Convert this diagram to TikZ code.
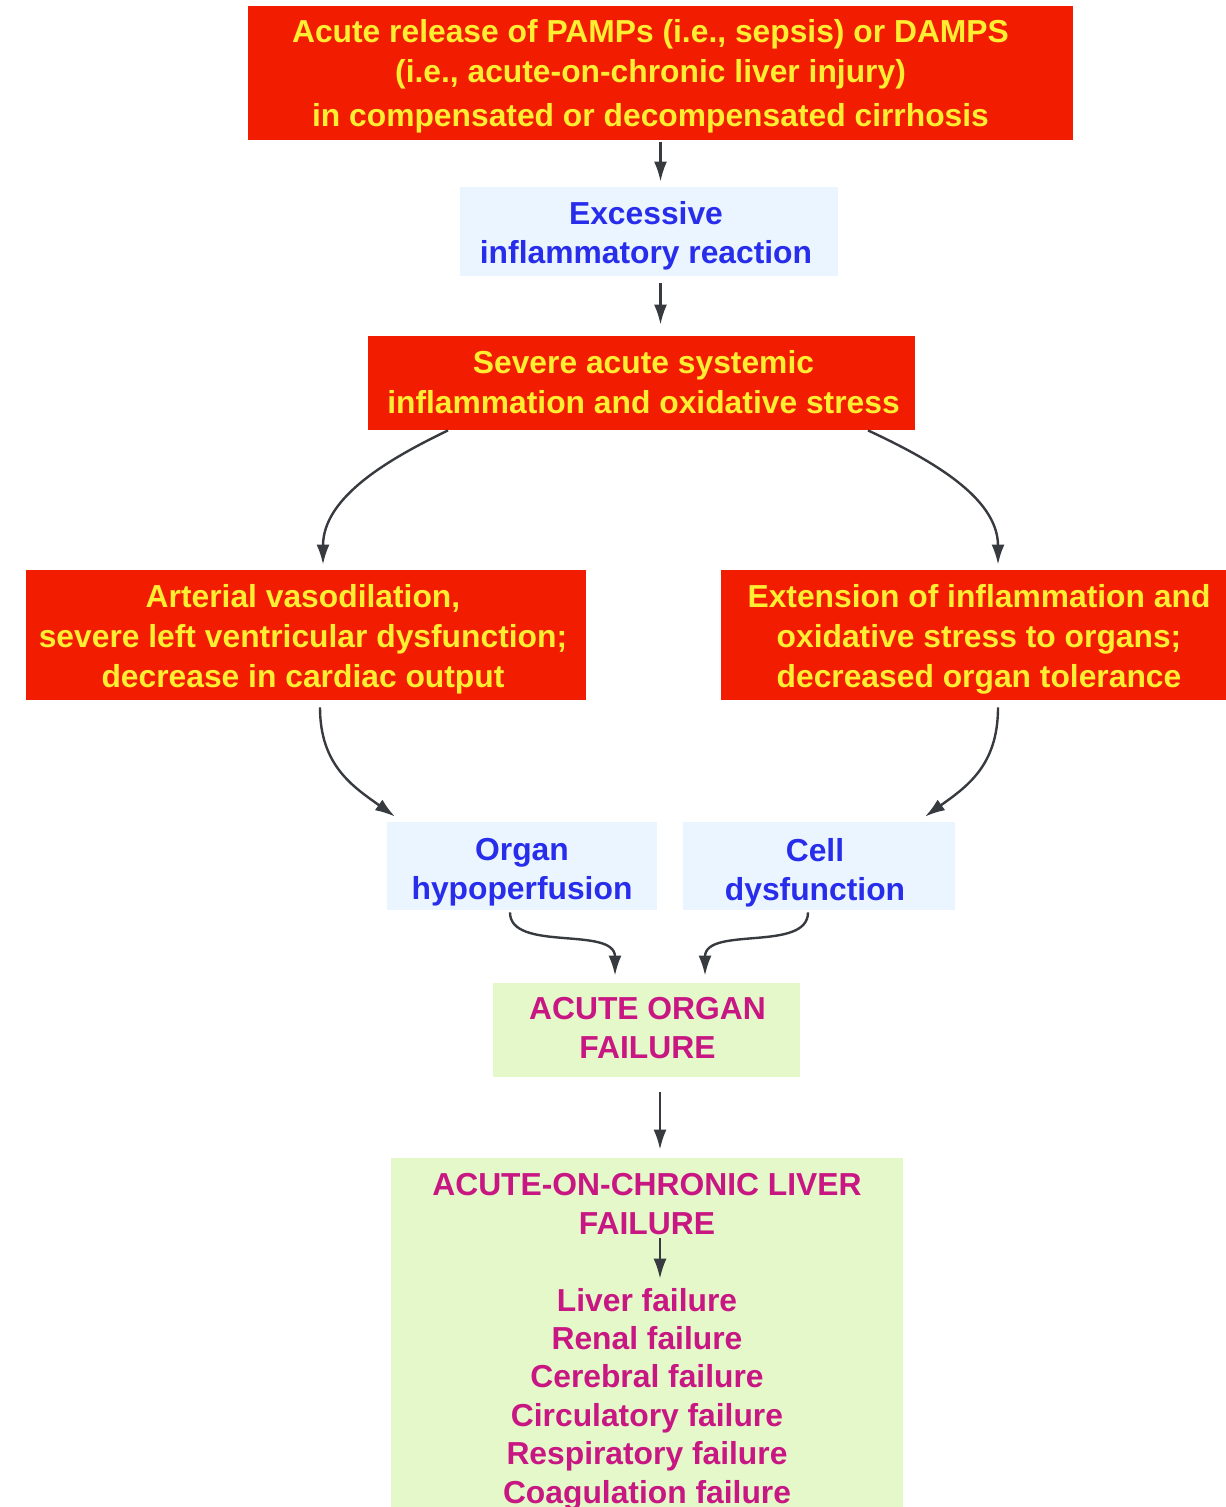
\documentclass[tikz,border=0pt]{standalone}
\usepackage{fontspec}
\setmainfont{Liberation Sans}
\usetikzlibrary{arrows.meta,calc}

\definecolor{boxred}{RGB}{242,28,0}
\definecolor{txtyellow}{RGB}{255,238,50}
\definecolor{paleblue}{RGB}{234,245,255}
\definecolor{txtblue}{RGB}{40,45,235}
\definecolor{palegreen}{RGB}{228,248,202}
\definecolor{txtmagenta}{RGB}{200,22,130}
\definecolor{arrowgray}{RGB}{55,58,62}

\tikzset{
  panel/.style={rectangle, inner sep=0pt},
  redbox/.style={panel, fill=boxred},
  bluebox/.style={panel, fill=paleblue},
  greenbox/.style={panel, fill=palegreen},
  label text/.style={inner sep=0pt, align=center,
    font=\fontsize{15.9}{19.5}\selectfont\bfseries},
  redtext/.style={label text, text=txtyellow,
    font=\fontsize{15.9}{20}\selectfont\bfseries},
  bluetext/.style={label text, text=txtblue},
  greentext/.style={label text, text=txtmagenta,
    font=\fontsize{15.9}{19.2}\selectfont\bfseries},
  flow/.style={draw=arrowgray, line width=1.2pt,
    -{Latex[length=10pt,width=6.5pt]}},
}

\begin{document}
\begin{tikzpicture}[x=0.5pt, y=-0.5pt]
\useasboundingbox (0,0) rectangle (1225,1507);

% coloured panels
\node[redbox, minimum width=412.5pt, minimum height=67pt] (top) at (660.5,73) {};
\node[bluebox, minimum width=189pt, minimum height=44.5pt] (excess) at (649,231.5) {};
\node[redbox, minimum width=273.5pt, minimum height=47pt] (sev) at (641.5,383) {};
\node[redbox, minimum width=280pt, minimum height=65pt] (art) at (306,635) {};
\node[redbox, minimum width=258pt, minimum height=65pt] (ext) at (979,635) {};
\node[bluebox, minimum width=135pt, minimum height=44pt] (hypo) at (522,866) {};
\node[bluebox, minimum width=136pt, minimum height=44pt] (cell) at (819,866) {};
\node[greenbox, minimum width=153.5pt, minimum height=47pt] (aof) at (646.5,1030) {};
\node[greenbox, minimum width=256pt, minimum height=185pt] (aclf) at (647,1343) {};

% panel texts
\node[redtext] (toptext) at ($(top)+(-10,3.7)$)
  {Acute release of PAMPs (i.e., sepsis) or DAMPS\\
   (i.e., acute-on-chronic liver injury)\\[2pt]
   in compensated or decompensated cirrhosis};
\node[bluetext] (excesstext) at ($(excess)+(-3,4.5)$)
  {Excessive\\inflammatory reaction};
\node[redtext] (sevtext) at ($(sev)+(2,-1)$)
  {Severe acute systemic\\inflammation and oxidative stress};
\node[redtext] (arttext) at ($(art)+(-3,4)$)
  {Arterial vasodilation,\\severe left ventricular dysfunction;\\decrease in cardiac output};
\node[redtext] (exttext) at ($(ext)+(0,4)$)
  {Extension of inflammation and\\oxidative stress to organs;\\decreased organ tolerance};
\node[bluetext] (hypotext) at ($(hypo)+(0,6.5)$)
  {Organ\\hypoperfusion};
\node[bluetext] (celltext) at ($(cell)+(-4,6.5)$)
  {Cell\\dysfunction};
\node[greentext] (aoftext) at ($(aof)+(1,-2)$)
  {ACUTE ORGAN\\FAILURE};
\node[greentext] (aclftitle) at (647,1204)
  {ACUTE-ON-CHRONIC LIVER\\FAILURE};
\node[greentext] (aclflist) at (647,1399)
  {Liver failure\\Renal failure\\Cerebral failure\\Circulatory failure\\
   Respiratory failure\\Coagulation failure};

% straight connectors
\draw[flow] ($(top.south)+(0,2)$) -- ($(excess.north -| top.south)+(0,-5)$);
\draw[flow] ($(excess.south -| top.south)+(0,7)$) -- ($(sev.north -| top.south)+(0,-11)$);
\draw[flow] ($(aof.south)+(13.5,15)$) -- ($(aclf.north)+(13,-8)$);
\draw[flow] ($(aclftitle.south)+(13,3)$) -- ($(aclflist.north)+(13,-9)$);

% curved connectors
\coordinate (s1) at ($(sev.south)+(-193.5,0)$);
\coordinate (e1) at ($(art.north)+(17,-5)$);
\draw[flow] (s1) .. controls ($(s1)+(-58,28)$) and ($(e1)+(0,-68)$) .. (e1);

\coordinate (s2) at ($(sev.south)+(226.5,0)$);
\coordinate (e2) at ($(ext.north)+(19,-5)$);
\draw[flow] (s2) .. controls ($(s2)+(60,28)$) and ($(e2)+(0,-68)$) .. (e2);

\coordinate (s3) at ($(art.south)+(14,7)$);
\coordinate (e3) at ($(hypo.north)+(-127,-5)$);
\draw[flow] (s3) .. controls ($(s3)+(0,58)$) and ($(e3)+(-42,-30)$) .. (e3);

\coordinate (s4) at ($(ext.south)+(19,7)$);
\coordinate (e4) at ($(cell.north)+(106,-5)$);
\draw[flow] (s4) .. controls ($(s4)+(0,58)$) and ($(e4)+(42,-30)$) .. (e4);

\coordinate (s5) at ($(hypo.south)+(-12,2)$);
\coordinate (e5) at ($(aof.north)+(-31.5,-7)$);
\draw[flow] (s5) .. controls ($(s5)+(0,40)$) and ($(e5)+(0,-50)$) .. (e5);

\coordinate (s6) at ($(cell.south)+(-11,2)$);
\coordinate (e6) at ($(aof.north)+(58.5,-7)$);
\draw[flow] (s6) .. controls ($(s6)+(0,40)$) and ($(e6)+(0,-50)$) .. (e6);
\end{tikzpicture}
\end{document}
